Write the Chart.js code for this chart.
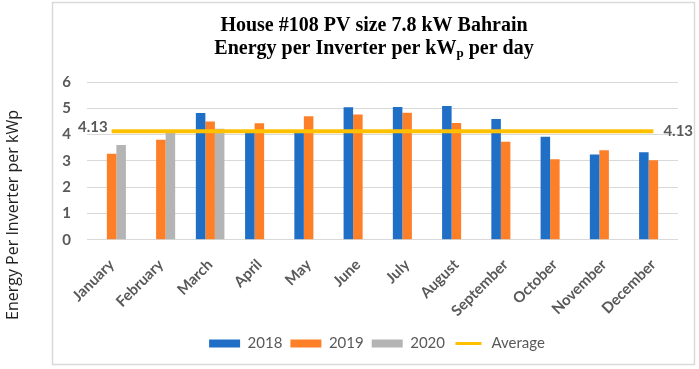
<!DOCTYPE html>
<html><head><meta charset="utf-8">
<script src="https://cdn.jsdelivr.net/npm/chart.js@4/dist/chart.umd.min.js"></script>
<style>html,body{margin:0;padding:0;background:#fff;}#wrap{width:699px;height:369px;position:relative}</style>
</head><body><div id="wrap"><canvas id="c" width="699" height="369"></canvas></div>
<script>
const months = ["January","February","March","April","May","June","July","August","September","October","November","December"];
const y2018 = [null, null, 4.82, 4.10, 4.10, 5.04, 5.05, 5.09, 4.59, 3.92, 3.24, 3.33];
const y2019 = [3.27, 3.80, 4.50, 4.43, 4.70, 4.76, 4.83, 4.44, 3.73, 3.06, 3.40, 3.02];
const y2020 = [3.60, 4.10, 4.22, null, null, null, null, null, null, null, null, null];
const average = [4.13, 4.13, 4.13, 4.13, 4.13, 4.13, 4.13, 4.13, 4.13, 4.13, 4.13, 4.13];
const averageLabel = "4.13";
const yMin = 0, yMax = 6, yStep = 1;
const titleLine1 = "House #108 PV size 7.8 kW Bahrain";
const titleLine2 = ["Energy per Inverter per kW", "p", " per day"];
const yTitle = "Energy Per Inverter per kWp";

const GRAY = '#595959';
const deco = {
  id: 'deco',
  afterLayout(chart) {
    const lg = chart.legend;
    if (lg) { lg.left += 38; lg.right += 38; }
  },
  beforeDraw(chart) {
    const ctx = chart.ctx;
    ctx.save();
    ctx.fillStyle = '#fff';
    ctx.fillRect(0, 0, chart.width, chart.height);
    ctx.strokeStyle = '#d9d9d9';
    ctx.lineWidth = 1.5;
    ctx.strokeRect(52.5, 2.5, 642, 362);
    ctx.restore();
  },
  afterDraw(chart) {
    const ctx = chart.ctx;
    ctx.save();
    // title
    ctx.fillStyle = '#000';
    ctx.textBaseline = 'middle';
    ctx.textAlign = 'center';
    ctx.font = 'bold 20px "Liberation Serif"';
    const cx = 374;
    ctx.fillText(titleLine1, cx, 26);
    ctx.textAlign = 'left';
    const f1 = 'bold 20px "Liberation Serif"', f2 = 'bold 13px "Liberation Serif"';
    ctx.font = f1; const w1 = ctx.measureText(titleLine2[0]).width, w3 = ctx.measureText(titleLine2[2]).width;
    ctx.font = f2; const w2 = ctx.measureText(titleLine2[1]).width;
    let x = cx - (w1 + w2 + w3) / 2;
    ctx.font = f1; ctx.fillText(titleLine2[0], x, 49); x += w1;
    ctx.font = f2; ctx.fillText(titleLine2[1], x, 54); x += w2;
    ctx.font = f1; ctx.fillText(titleLine2[2], x, 49);
    // y axis title (outside the chart box)
    ctx.save();
    ctx.translate(13, 215);
    ctx.rotate(-Math.PI / 2);
    ctx.textAlign = 'center';
    ctx.fillStyle = '#222';
    ctx.font = '16px "Open Sans"';
    ctx.fillText(yTitle, 0, 0);
    ctx.restore();
    // average labels
    const meta = chart.getDatasetMeta(3);
    const p0 = meta.data[0], pN = meta.data[meta.data.length - 1];
    ctx.font = 'bold 15px Lato';
    ctx.fillStyle = GRAY;
    ctx.textAlign = 'right';
    ctx.fillText(averageLabel, p0.x - 4, p0.y - 4);
    ctx.textAlign = 'left';
    ctx.fillText(averageLabel, pN.x + 10, pN.y);
    ctx.restore();
  }
};

new Chart(document.getElementById('c'), {
  data: {
    labels: months,
    datasets: [
      { type: 'bar', label: '2018', data: y2018, backgroundColor: '#1f6fc6', order: 1 },
      { type: 'bar', label: '2019', data: y2019, backgroundColor: '#fd7f27', order: 1 },
      { type: 'bar', label: '2020', data: y2020, backgroundColor: '#b4b4b4', order: 1 },
      { type: 'line', label: 'Average', data: average, borderColor: '#ffc000', backgroundColor: '#ffc000', borderWidth: 4, pointRadius: 0, order: 0 }
    ]
  },
  options: {
    responsive: false,
    animation: false,
    devicePixelRatio: 1,
    datasets: { bar: { categoryPercentage: 0.58, barPercentage: 1 } },
    layout: { padding: { left: 0, right: 21, top: 82, bottom: 8 } },
    plugins: {
      tooltip: { enabled: false },
      title: { display: false },
      legend: {
        position: 'bottom',
        labels: {
          boxWidth: 31, boxHeight: 8, padding: 8,
          color: GRAY,
          font: { family: 'Lato', size: 15 },
          sort: (a, b) => a.datasetIndex - b.datasetIndex,
          generateLabels(chart) {
            const items = Chart.defaults.plugins.legend.labels.generateLabels(chart);
            items.forEach(it => {
              if (it.datasetIndex === 3) { it.strokeStyle = '#fff'; it.lineWidth = 5; it.fillStyle = '#ffc000'; }
              else { it.lineWidth = 0; }
            });
            return items;
          }
        }
      }
    },
    scales: {
      x: {
        grid: { display: false },
        border: { display: false },
        ticks: { color: GRAY, font: { family: 'Lato', size: 15, weight: 'bold' }, minRotation: 45, maxRotation: 45, padding: 8 }
      },
      y: {
        min: yMin, max: yMax,
        border: { display: false },
        grid: { color: '#d9d9d9', drawTicks: false },
        afterFit(scale) { scale.width = 87; },
        ticks: { stepSize: yStep, color: GRAY, font: { family: 'Lato', size: 15, weight: 'bold' }, padding: 16 }
      }
    }
  },
  plugins: [deco]
});
</script></body></html>
